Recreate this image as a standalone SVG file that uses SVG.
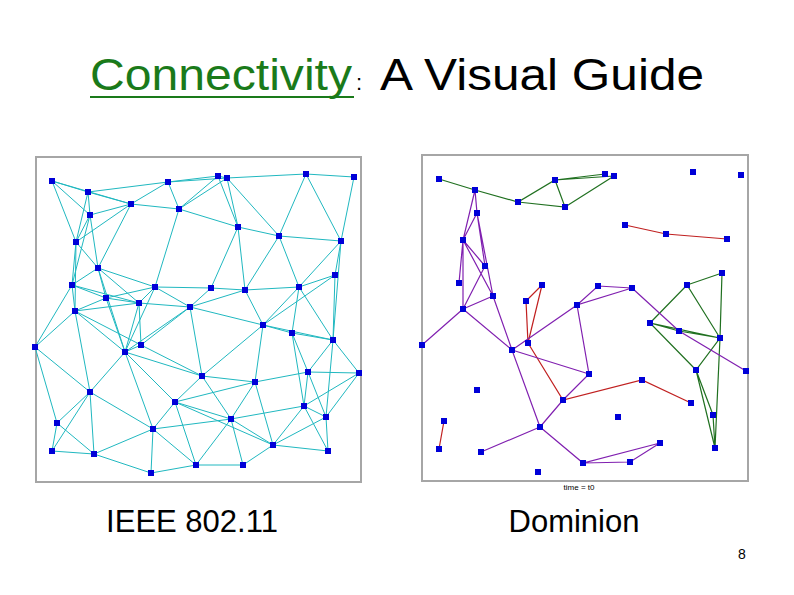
<svg xmlns="http://www.w3.org/2000/svg" xmlns:xlink="http://www.w3.org/1999/xlink" width="794" height="595" viewBox="0 0 794 595">
<style>
.t{font-family:"Liberation Sans",Arial,sans-serif;fill:#000}
.frame{fill:#fff;stroke:#a6a6a6;stroke-width:2}
.c{stroke:#20b8c0;stroke-width:1;fill:none}
.g{stroke:#207020;stroke-width:1.2;fill:none}
.r{stroke:#c02020;stroke-width:1.2;fill:none}
.p{stroke:#8020b0;stroke-width:1.2;fill:none}
</style>
<defs><rect id="nd" x="-3" y="-3" width="6" height="6" fill="#0000d8"/></defs>
<rect width="794" height="595" fill="#fff"/>
<text class="t" x="90" y="90" font-size="45" textLength="262" lengthAdjust="spacingAndGlyphs" style="fill:#1a7a1a">Connectivity</text>
<line x1="90" y1="97" x2="354" y2="97" stroke="#1a7a1a" stroke-width="2"/>
<text class="t" x="356" y="90" font-size="22">:</text>
<text class="t" x="380" y="90" font-size="45" textLength="324" lengthAdjust="spacingAndGlyphs">A Visual Guide</text>
<rect class="frame" x="36" y="157" width="325" height="325"/>
<rect class="frame" x="422" y="155" width="326" height="326"/>
<g id="connectors-left" class="c">
<path d="M52,181L88,192M52,181L131,204M52,181L76,242M52,181L90,215M88,192L168,182M88,192L131,204M88,192L90,215M88,192L76,242M131,204L168,182M131,204L179,209M131,204L90,215M131,204L98,268M131,204L76,242M168,182L218,176M168,182L179,209M168,182L227,178M218,176L227,178M218,176L179,209M227,178L306,174M227,178L179,209M227,178L238,227M227,178L279,236M218,176L238,227M179,209L238,227M179,209L155,287M238,227L279,236M306,174L354,177M306,174L279,236M306,174L341,241M354,177L341,241M238,227L211,288M238,227L245,290M279,236L341,241M279,236L245,290M279,236L299,287M341,241L299,287M341,241L335,275M341,241L333,340M90,215L76,242M90,215L98,268M90,215L72,285M76,242L98,268M76,242L72,285M76,242L75,311M98,268L72,285M98,268L155,287M98,268L106,298M98,268L139,303M98,268L125,352M72,285L106,298M72,285L75,311M72,285L139,303M155,287L211,288M155,287L139,303M155,287L190,307M155,287L125,352M155,287L106,298M211,288L245,290M211,288L190,307M245,290L299,287M245,290L190,307M245,290L263,325M299,287L335,275M299,287L263,325M299,287L292,333M299,287L333,340M335,275L333,340M335,275L263,325M106,298L139,303M106,298L75,311M106,298L125,352M139,303L190,307M139,303L75,311M139,303L125,352M139,303L141,345M190,307L141,345M190,307L263,325M190,307L202,376M190,307L125,352M75,311L35,347M75,311L90,392M75,311L125,352M75,311L141,345M263,325L292,333M263,325L333,340M263,325L202,376M263,325L255,382M292,333L333,340M292,333L308,372M292,333L304,406M333,340L308,372M333,340L359,373M333,340L326,417M72,285L35,347M35,347L90,392M35,347L57,423M125,352L141,345M125,352L202,376M125,352L175,402M125,352L153,429M125,352L90,392M141,345L202,376M202,376L255,382M202,376L175,402M202,376L231,419M255,382L308,372M255,382L175,402M255,382L231,419M255,382L273,445M308,372L359,373M308,372L304,406M308,372L326,417M359,373L326,417M359,373L304,406M90,392L57,423M90,392L52,451M90,392L94,454M90,392L153,429M175,402L153,429M175,402L231,419M175,402L196,465M175,402L273,445M304,406L326,417M304,406L328,451M304,406L273,445M304,406L231,419M326,417L328,451M231,419L273,445M231,419L196,465M231,419L243,465M57,423L52,451M57,423L94,454M153,429L94,454M153,429L151,473M153,429L196,465M153,429L231,419M273,445L243,465M273,445L328,451M273,445L326,417M52,451L94,454M94,454L151,473M196,465L243,465M196,465L151,473"/>
</g>
<g id="connectors-right">
<path class="g" d="M439,179L475,190L518,202L555,180L565,207L518,202M555,180L605,174M555,180L614,176L565,207M650,323L687,285L720,338L650,323L696,370L720,338L722,273L687,285M720,338L715,448L696,370L713,415L715,448M650,323L679,331L720,338"/>
<path class="r" d="M625,225L666,234L727,239M542,285L526,301L528,343L542,285M528,343L563,400L642,380L691,403M444,421L439,449"/>
<path class="p" d="M475,190L477,213L485,266M475,190L463,240L485,266M477,213L463,240M463,240L459,283M463,240L463,309M463,240L493,296M477,213L493,296M485,266L463,309M463,309L493,296M463,309L422,345M463,309L512,350L540,427M493,296L512,350M512,350L577,305L598,286L632,288L577,305L589,374L563,400L540,427M512,350L589,374M540,427L481,452M540,427L583,463L660,443L630,462L583,463M632,288L679,331L746,371"/>
</g>
<g id="nodes-left">
<g id="L1"><use xlink:href="#nd" x="52" y="181"/></g><g id="L2"><use xlink:href="#nd" x="88" y="192"/></g><g id="L3"><use xlink:href="#nd" x="131" y="204"/></g><g id="L4"><use xlink:href="#nd" x="168" y="182"/></g><g id="L5"><use xlink:href="#nd" x="218" y="176"/></g><g id="L6"><use xlink:href="#nd" x="227" y="178"/></g><g id="L7"><use xlink:href="#nd" x="179" y="209"/></g><g id="L8"><use xlink:href="#nd" x="90" y="215"/></g><g id="L9"><use xlink:href="#nd" x="306" y="174"/></g><g id="L10"><use xlink:href="#nd" x="354" y="177"/></g><g id="L11"><use xlink:href="#nd" x="238" y="227"/></g><g id="L12"><use xlink:href="#nd" x="279" y="236"/></g><g id="L13"><use xlink:href="#nd" x="341" y="241"/></g><g id="L14"><use xlink:href="#nd" x="76" y="242"/></g><g id="L15"><use xlink:href="#nd" x="98" y="268"/></g><g id="L16"><use xlink:href="#nd" x="335" y="275"/></g><g id="L17"><use xlink:href="#nd" x="72" y="285"/></g><g id="L18"><use xlink:href="#nd" x="155" y="287"/></g><g id="L19"><use xlink:href="#nd" x="211" y="288"/></g><g id="L20"><use xlink:href="#nd" x="245" y="290"/></g><g id="L21"><use xlink:href="#nd" x="299" y="287"/></g><g id="L22"><use xlink:href="#nd" x="106" y="298"/></g><g id="L23"><use xlink:href="#nd" x="139" y="303"/></g><g id="L24"><use xlink:href="#nd" x="190" y="307"/></g><g id="L25"><use xlink:href="#nd" x="75" y="311"/></g><g id="L26"><use xlink:href="#nd" x="263" y="325"/></g><g id="L27"><use xlink:href="#nd" x="292" y="333"/></g><g id="L28"><use xlink:href="#nd" x="333" y="340"/></g><g id="L29"><use xlink:href="#nd" x="35" y="347"/></g><g id="L30"><use xlink:href="#nd" x="125" y="352"/></g><g id="L31"><use xlink:href="#nd" x="141" y="345"/></g><g id="L32"><use xlink:href="#nd" x="308" y="372"/></g><g id="L33"><use xlink:href="#nd" x="359" y="373"/></g><g id="L34"><use xlink:href="#nd" x="202" y="376"/></g><g id="L35"><use xlink:href="#nd" x="255" y="382"/></g><g id="L36"><use xlink:href="#nd" x="90" y="392"/></g><g id="L37"><use xlink:href="#nd" x="175" y="402"/></g><g id="L38"><use xlink:href="#nd" x="304" y="406"/></g><g id="L39"><use xlink:href="#nd" x="326" y="417"/></g><g id="L40"><use xlink:href="#nd" x="231" y="419"/></g><g id="L41"><use xlink:href="#nd" x="57" y="423"/></g><g id="L42"><use xlink:href="#nd" x="153" y="429"/></g><g id="L43"><use xlink:href="#nd" x="273" y="445"/></g><g id="L44"><use xlink:href="#nd" x="328" y="451"/></g><g id="L45"><use xlink:href="#nd" x="52" y="451"/></g><g id="L46"><use xlink:href="#nd" x="94" y="454"/></g><g id="L47"><use xlink:href="#nd" x="196" y="465"/></g><g id="L48"><use xlink:href="#nd" x="243" y="465"/></g><g id="L49"><use xlink:href="#nd" x="151" y="473"/></g>
</g>
<g id="nodes-right">
<g id="R1"><use xlink:href="#nd" x="439" y="179"/></g><g id="R2"><use xlink:href="#nd" x="475" y="190"/></g><g id="R3"><use xlink:href="#nd" x="518" y="202"/></g><g id="R4"><use xlink:href="#nd" x="555" y="180"/></g><g id="R5"><use xlink:href="#nd" x="605" y="174"/></g><g id="R6"><use xlink:href="#nd" x="614" y="176"/></g><g id="R7"><use xlink:href="#nd" x="565" y="207"/></g><g id="R8"><use xlink:href="#nd" x="693" y="172"/></g><g id="R9"><use xlink:href="#nd" x="741" y="175"/></g><g id="R10"><use xlink:href="#nd" x="477" y="213"/></g><g id="R11"><use xlink:href="#nd" x="625" y="225"/></g><g id="R12"><use xlink:href="#nd" x="666" y="234"/></g><g id="R13"><use xlink:href="#nd" x="727" y="239"/></g><g id="R14"><use xlink:href="#nd" x="463" y="240"/></g><g id="R15"><use xlink:href="#nd" x="485" y="266"/></g><g id="R16"><use xlink:href="#nd" x="722" y="273"/></g><g id="R17"><use xlink:href="#nd" x="459" y="283"/></g><g id="R18"><use xlink:href="#nd" x="542" y="285"/></g><g id="R19"><use xlink:href="#nd" x="598" y="286"/></g><g id="R20"><use xlink:href="#nd" x="632" y="288"/></g><g id="R21"><use xlink:href="#nd" x="687" y="285"/></g><g id="R22"><use xlink:href="#nd" x="493" y="296"/></g><g id="R23"><use xlink:href="#nd" x="526" y="301"/></g><g id="R24"><use xlink:href="#nd" x="577" y="305"/></g><g id="R25"><use xlink:href="#nd" x="463" y="309"/></g><g id="R26"><use xlink:href="#nd" x="650" y="323"/></g><g id="R27"><use xlink:href="#nd" x="679" y="331"/></g><g id="R28"><use xlink:href="#nd" x="720" y="338"/></g><g id="R29"><use xlink:href="#nd" x="422" y="345"/></g><g id="R30"><use xlink:href="#nd" x="512" y="350"/></g><g id="R31"><use xlink:href="#nd" x="528" y="343"/></g><g id="R32"><use xlink:href="#nd" x="746" y="371"/></g><g id="R33"><use xlink:href="#nd" x="696" y="370"/></g><g id="R34"><use xlink:href="#nd" x="589" y="374"/></g><g id="R35"><use xlink:href="#nd" x="642" y="380"/></g><g id="R36"><use xlink:href="#nd" x="477" y="390"/></g><g id="R37"><use xlink:href="#nd" x="563" y="400"/></g><g id="R38"><use xlink:href="#nd" x="691" y="403"/></g><g id="R39"><use xlink:href="#nd" x="713" y="415"/></g><g id="R40"><use xlink:href="#nd" x="618" y="417"/></g><g id="R41"><use xlink:href="#nd" x="444" y="421"/></g><g id="R42"><use xlink:href="#nd" x="540" y="427"/></g><g id="R43"><use xlink:href="#nd" x="660" y="443"/></g><g id="R44"><use xlink:href="#nd" x="439" y="449"/></g><g id="R45"><use xlink:href="#nd" x="715" y="448"/></g><g id="R46"><use xlink:href="#nd" x="481" y="452"/></g><g id="R47"><use xlink:href="#nd" x="583" y="463"/></g><g id="R48"><use xlink:href="#nd" x="630" y="462"/></g><g id="R49"><use xlink:href="#nd" x="538" y="472"/></g>
</g>
<text class="t" x="579" y="490" font-size="8" text-anchor="middle">time = t0</text>
<text class="t" x="192" y="532" font-size="31" text-anchor="middle">IEEE 802.11</text>
<text class="t" x="574" y="532" font-size="31" text-anchor="middle">Dominion</text>
<text class="t" x="742" y="559" font-size="14" text-anchor="middle">8</text>
</svg>
